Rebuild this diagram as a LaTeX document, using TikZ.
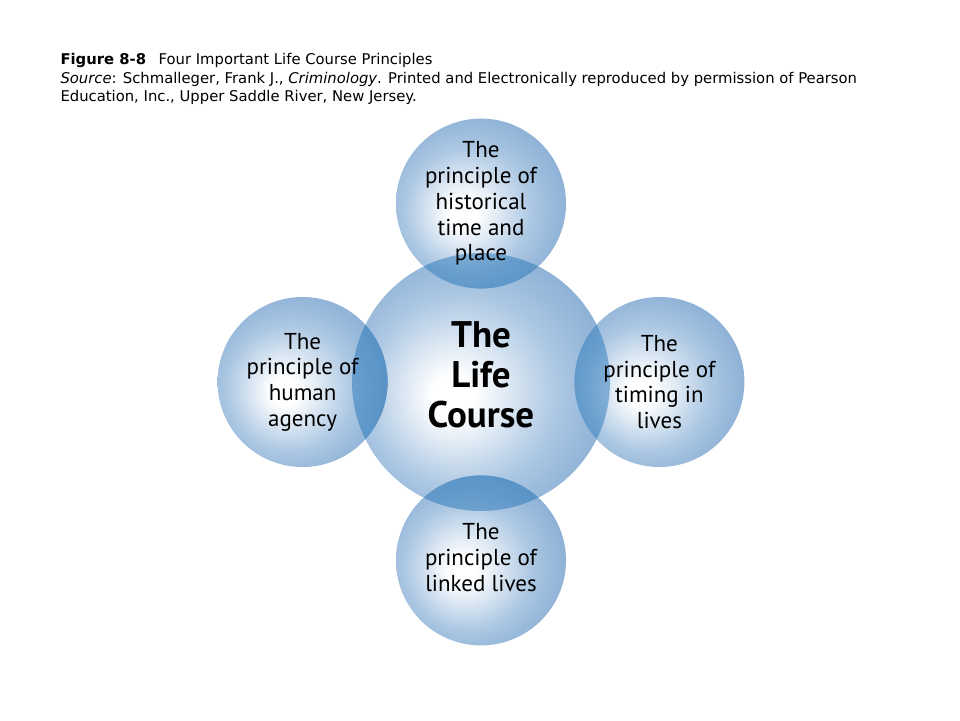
\documentclass[tikz,border=0pt]{standalone}
\usepackage{fontspec}
\setmainfont{DejaVu Sans}
\newfontfamily\ballfont{PT Sans}
\usetikzlibrary{positioning}
\def\rbig{129pt}
\def\rsmall{85pt}
\def\dov{-36pt}
\definecolor{balledge}{RGB}{98,145,195}
\definecolor{ballouter}{RGB}{122,163,206}
\definecolor{ballmid}{RGB}{170,198,226}
\definecolor{lensblue}{RGB}{25,110,180}
\pgfdeclareradialshading{ballshade}{\pgfpoint{-6bp}{-3bp}}{color(0bp)=(white); color(4bp)=(white); color(19bp)=(ballmid); color(34bp)=(ballouter); color(50bp)=(balledge)}
\tikzstyle{ball}=[circle,inner sep=0pt,shading=ballshade]
\tikzstyle{lens}=[fill=lensblue,fill opacity=0.45]
\tikzstyle{words}=[align=center,font=\ballfont\fontsize{23}{25.7}\selectfont]
\newcommand{\newBall}[2]{\node[ball,minimum size=2*\rsmall,#2](#1){};}
\newcommand{\newLens}[2]{\begin{scope}\clip (#1.center) circle (\rbig); \fill[lens] (#2.center) circle (\rsmall);\end{scope}}

\begin{document}
\begin{tikzpicture}[x=1pt,y=1pt,node distance=\dov]
    \useasboundingbox (0,0) rectangle (960,720);
    \node[anchor=base west,align=left,font=\fontsize{14.8}{18.7}\selectfont] (caption) at (57,618)
      {\textbf{Figure 8-8}\hspace{0.85em}Four Important Life Course Principles\\
       \textit{Source}: Schmalleger, Frank J., \textit{Criminology}. Printed and Electronically reproduced by permission of Pearson\\
       Education, Inc., Upper Saddle River, New Jersey.};
    \node[ball,minimum size=2*\rbig] (life) at (481,338) {};
    \newBall{hist}{above=of life}
    \newBall{agency}{left=of life}
    \newBall{timing}{right=of life}
    \newBall{linked}{below=of life}
    % overlaps
    \newLens{life}{hist}
    \newLens{life}{agency}
    \newLens{life}{timing}
    \newLens{life}{linked}
    \node[words,font=\ballfont\bfseries\fontsize{37}{40}\selectfont] (lifeText) at ([yshift=7pt]life.center) {The\\Life\\Course};
    \node[words] (histText) at (hist) {The\\principle of\\historical\\time and\\place};
    \node[words] (agencyText) at (agency) {The\\principle of\\human\\agency};
    \node[words] (timingText) at (timing) {The\\principle of\\timing in\\lives};
    \node[words] (linkedText) at ([yshift=3pt]linked.center) {The\\principle of\\linked lives};
\end{tikzpicture}
\end{document}
